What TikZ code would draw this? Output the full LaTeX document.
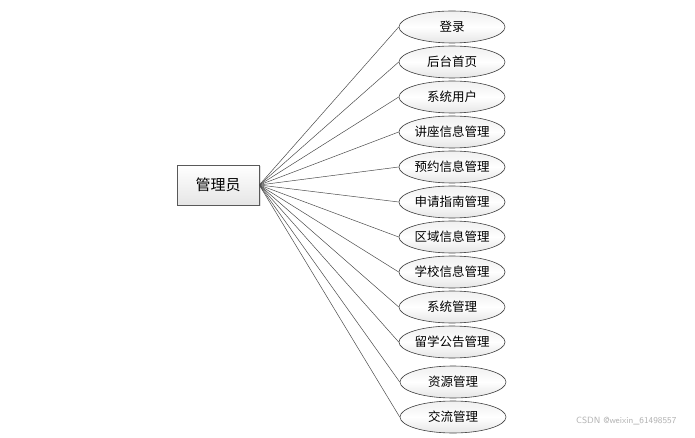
\documentclass[tikz,border=0pt]{standalone}
\usepackage{fontspec}
\newfontfamily\cjk{Noto Sans CJK SC}
\usetikzlibrary{shapes.geometric,shadows}
\begin{document}
\begin{tikzpicture}[x=1pt,y=-1pt,
  usecase/.style={ellipse,draw=black!75,line width=0.6pt,top color=black!6,bottom color=black!10,middle color=white,
    minimum width=106pt,minimum height=32pt,inner sep=0pt,font=\cjk\fontsize{12.5}{12.5}\selectfont},
  actor/.style={rectangle,draw=black!65,line width=0.6pt,top color=white,bottom color=black!10,
    minimum width=82pt,minimum height=40pt,inner sep=0pt,font=\cjk\fontsize{15}{15}\selectfont,
    drop shadow={shadow xshift=1.5pt,shadow yshift=-1.5pt,opacity=0.25}},
  link/.style={draw=black!70,line width=0.5pt}]
\useasboundingbox[fill=white] (0,0) rectangle (695,438);
\node[actor] (a) at (218,185) {管理员};
\node[usecase] (u1) at (452,27) {登录};
\node[usecase] (u2) at (452,62) {后台首页};
\node[usecase] (u3) at (452,97) {系统用户};
\node[usecase] (u4) at (452,132) {讲座信息管理};
\node[usecase] (u5) at (452,167) {预约信息管理};
\node[usecase] (u6) at (452,202) {申请指南管理};
\node[usecase] (u7) at (452,237) {区域信息管理};
\node[usecase] (u8) at (452,272) {学校信息管理};
\node[usecase] (u9) at (452,307) {系统管理};
\node[usecase] (u10) at (452,342) {留学公告管理};
\node[usecase] (u11) at (453,382) {资源管理};
\node[usecase] (u12) at (453,417) {交流管理};
\foreach \i in {1,...,12} \draw[link] (a.east) -- (u\i.west);
\node[font=\fontsize{9}{9}\selectfont\sffamily,text=black!30,anchor=east] (wm) at (680,421) {CSDN @weixin\_61498557};
\end{tikzpicture}
\end{document}
